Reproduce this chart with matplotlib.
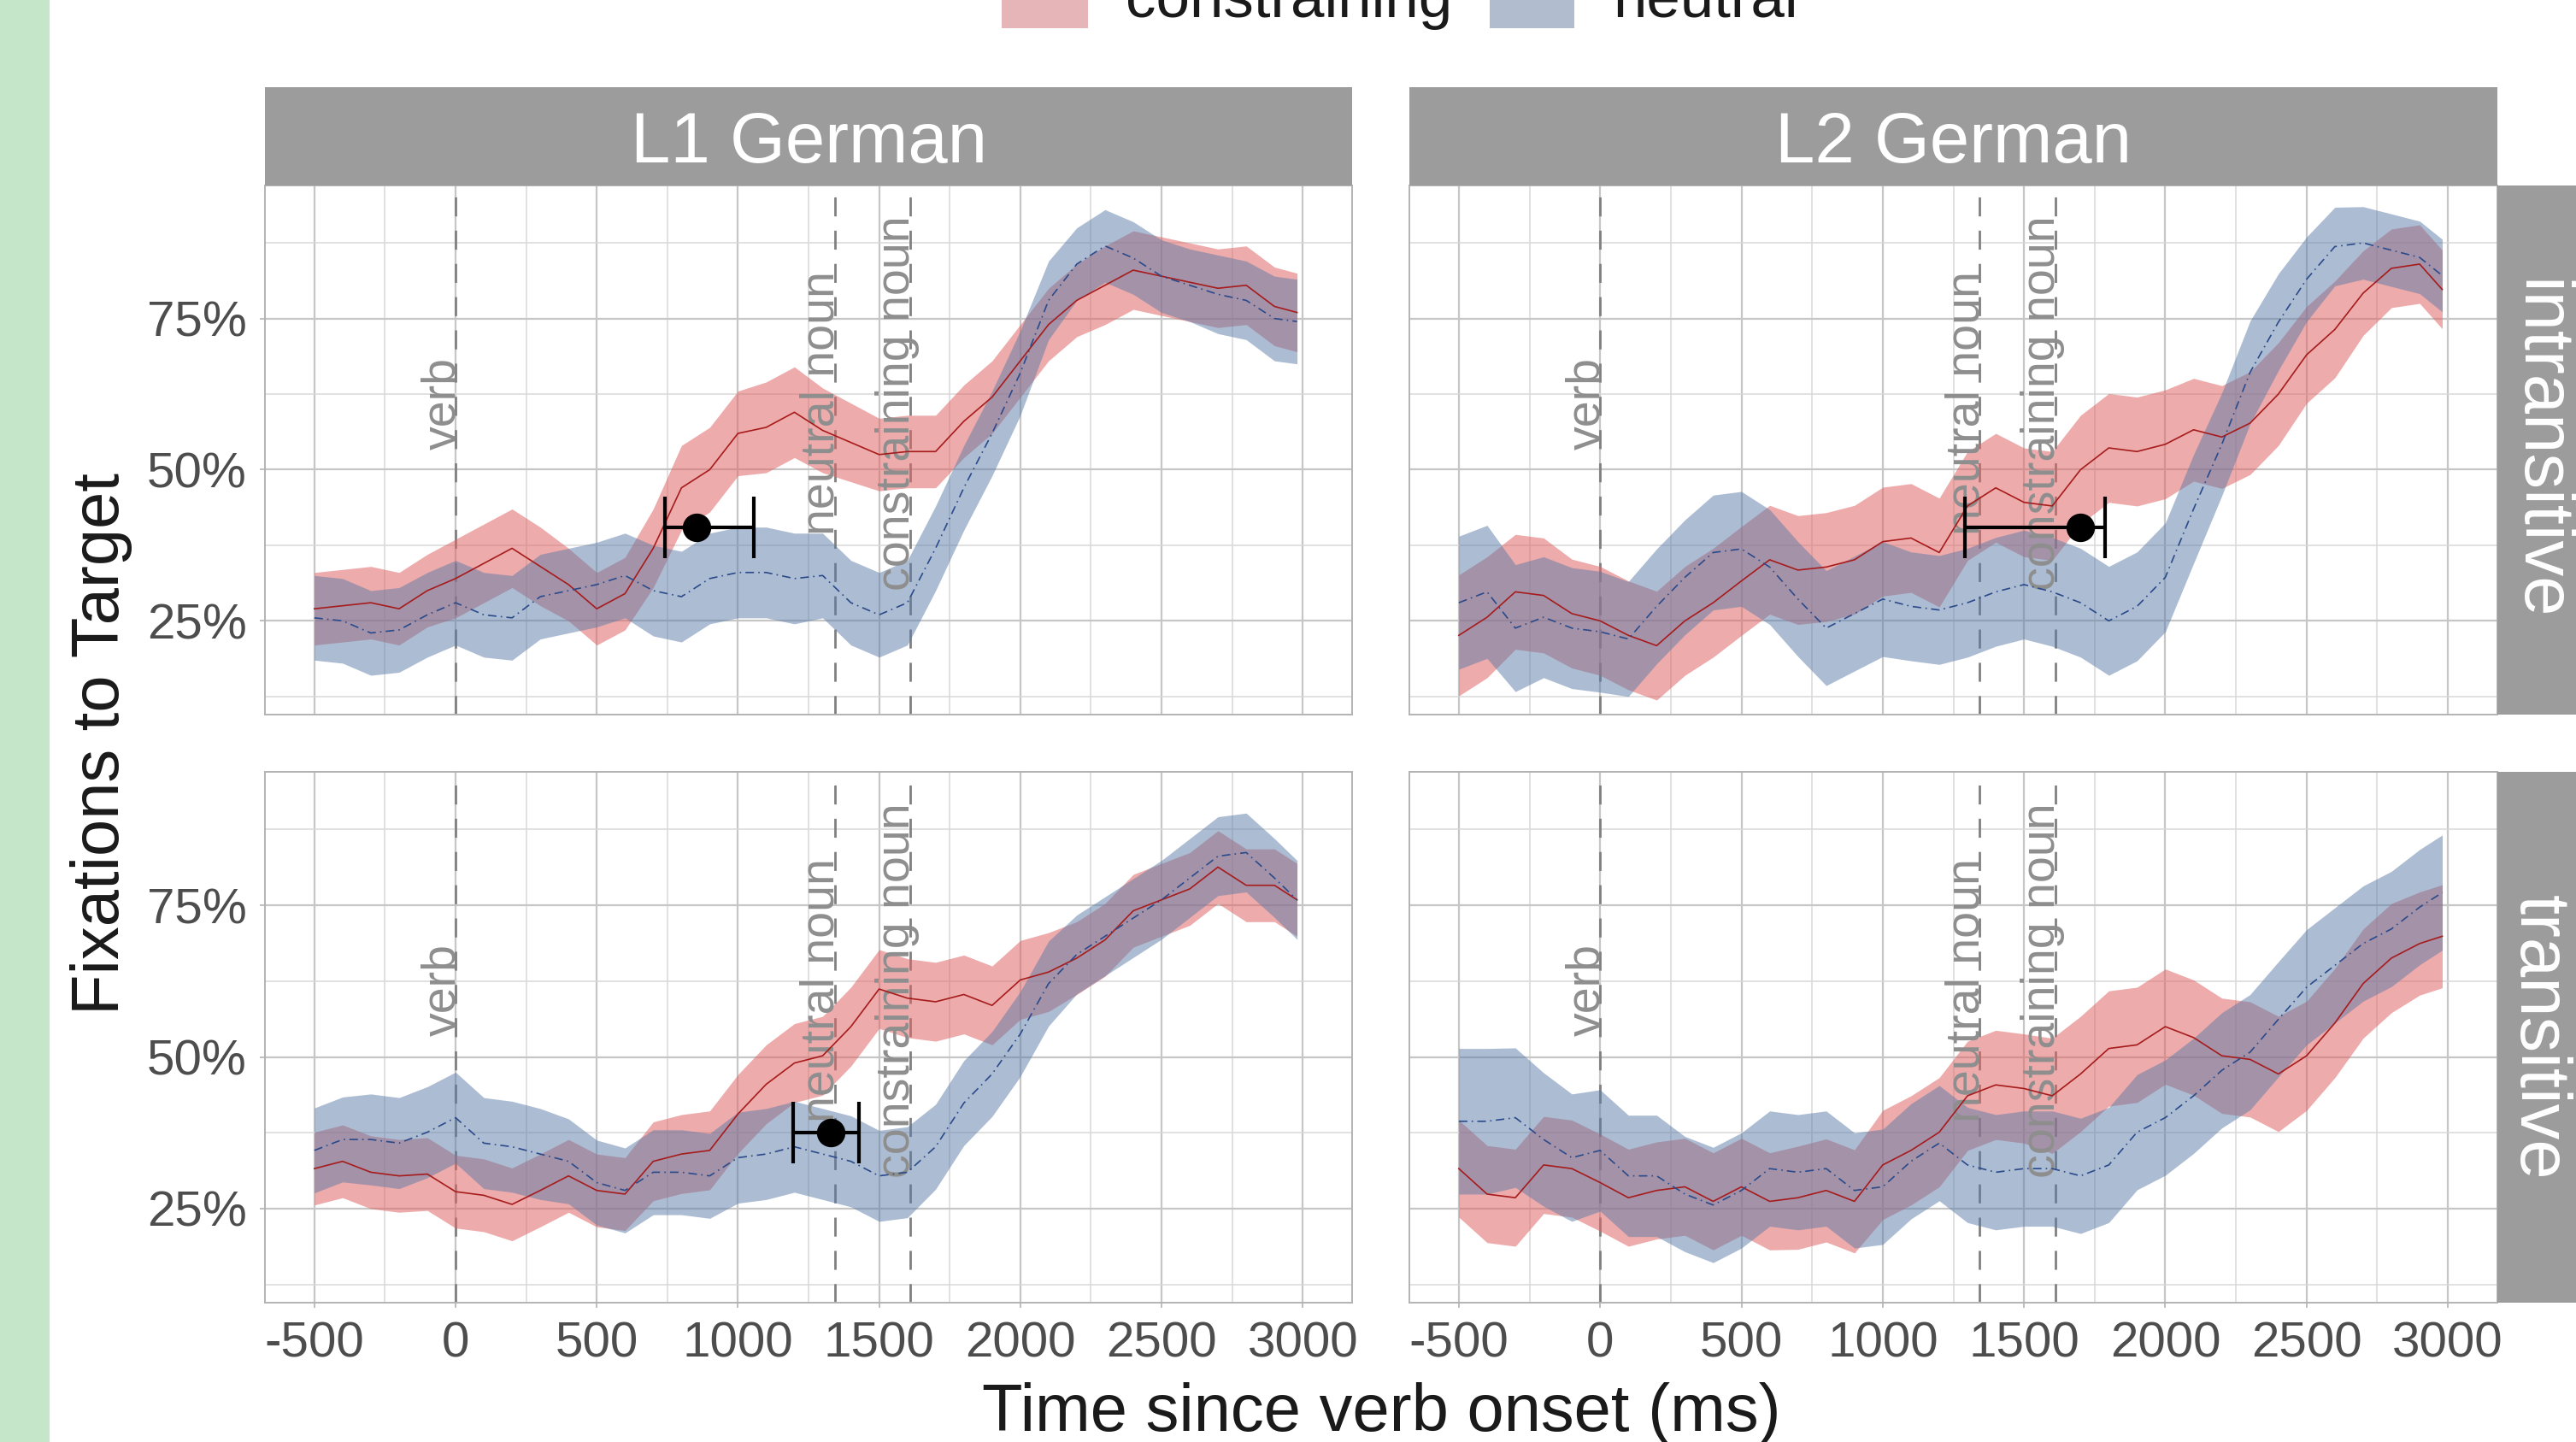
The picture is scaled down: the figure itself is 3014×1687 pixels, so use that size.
import matplotlib
matplotlib.use("Agg")
import matplotlib.pyplot as plt
from matplotlib.patches import Rectangle
from matplotlib.ticker import FuncFormatter, MultipleLocator, FixedLocator

plt.rcParams['font.family'] = ['Liberation Sans', 'DejaVu Sans']
plt.rcParams['axes.unicode_minus'] = False

W, H, DPI = 3014, 1687, 100

# ---------------- data ----------------
time_ms = [-500, -400, -300, -200, -100, 0, 100, 200, 300, 400, 500, 600, 700, 800,
           900, 1000, 1100, 1200, 1300, 1400, 1500, 1600, 1700, 1800, 1900, 2000,
           2100, 2200, 2300, 2400, 2500, 2600, 2700, 2800, 2900, 2980]

groups = ["L1 German", "L2 German"]
verb_types = ["intransitive", "transitive"]
conditions = ["constraining", "neutral"]

# fixations to target (%)
l1_intr_con = [27, 27.5, 28, 27, 30, 32, 34.5, 37, 34, 31, 27, 29.5, 37, 47, 50, 56, 57, 59.5,
               56.5, 54.5, 52.5, 53, 53, 58, 62, 68, 74, 78, 80.5, 83, 82, 81, 80, 80.5, 77, 76]
l1_intr_neu = [25.5, 25, 23, 23.5, 26, 28, 26, 25.5, 29, 30, 31, 32.5, 30, 29, 32, 33, 33, 32,
               32.5, 28, 26, 28, 37, 47, 56, 66, 78, 84, 87, 85, 82, 80.5, 79, 78, 75, 74.5]
l2_intr_con = [22.6, 25.6, 29.8, 29.2, 26.2, 25, 22.6, 20.9, 25, 28, 31.6, 35.1, 33.4, 33.9,
               35.1, 38.1, 38.7, 36.3, 44, 47, 44.6, 44, 50, 53.6, 53, 54.2, 56.6, 55.4, 57.7,
               62.5, 69, 73.2, 79.2, 83.3, 84, 79.8]
l2_intr_neu = [28, 29.8, 23.8, 25.6, 23.8, 23.2, 22, 27.4, 32.2, 36.3, 36.9, 33.9, 28.6, 23.8,
               26.2, 28.6, 27.4, 26.8, 28, 29.8, 31, 29.8, 28, 25, 27.4, 32.2, 43.5, 54.2, 66.1,
               74.4, 81.5, 86.9, 87.5, 86.3, 85.1, 82.1]
l1_trans_con = [31.6, 32.8, 31, 30.4, 30.7, 27.8, 27.2, 25.7, 28, 30.4, 28, 27.4, 32.8, 34,
                34.6, 40.6, 45.5, 49, 50.2, 55, 61.2, 59.7, 59.1, 60.3, 58.5, 62.7, 64, 66.3,
                69.3, 74.1, 75.9, 77.7, 81.3, 78.3, 78.3, 75.9]
l1_trans_neu = [34.6, 36.4, 36.4, 35.8, 37.6, 40, 35.8, 35.2, 34, 32.8, 29.3, 28, 31, 31, 30.4,
                33.4, 34, 35.2, 34, 32.8, 30.4, 31, 35.2, 42.4, 47.2, 53.8, 62.1, 66.9, 69.9,
                72.9, 75.9, 79.5, 83.1, 83.7, 79.5, 75.9]
l2_trans_con = [31.6, 27.4, 26.8, 32.2, 31.6, 29.3, 26.8, 28, 28.6, 26.2, 28.6, 26.2, 26.8, 28,
                26.2, 32.2, 34.6, 37.6, 43.6, 45.4, 44.8, 43.6, 47.2, 51.4, 52, 55, 53.2, 50.2,
                49.6, 47.2, 50.2, 55.6, 62.1, 66.3, 68.7, 69.9]
l2_trans_neu = [39.4, 39.4, 40, 36.4, 33.4, 34.6, 30.4, 30.4, 27.4, 25.6, 28, 31.6, 31, 31.6,
                28, 28.6, 32.8, 35.8, 32.2, 31, 31.6, 31.6, 30.4, 32.2, 37.6, 40, 43.6, 47.8,
                50.8, 56.2, 61.5, 65.1, 68.7, 71.1, 74.7, 77.1]

# ribbon half-widths (%)
l1_intr_con_ci = [6, 6, 6, 6, 6, 6.5, 6.5, 6.5, 6.5, 6, 6, 6, 6.5, 7, 7, 7, 7.5, 7.5, 7, 6.5,
                  6, 6, 6, 6, 6, 6, 6, 6, 6.5, 6.5, 6.5, 6.5, 6.5, 6.5, 6.5, 6.5]
l1_intr_neu_ci = [7, 7, 7, 7, 7, 7, 7, 7, 7, 7, 7, 7, 7.5, 7.5, 7.5, 7.5, 7.5, 7.5, 7, 7, 7, 7,
                  7, 7, 7, 7, 6.5, 6, 6, 6, 6, 6, 6.5, 6.5, 7, 7]
l2_intr_con_ci = [10, 10, 9.5, 9.5, 9, 9, 9, 9, 9, 9, 9, 9, 9, 9, 9, 9, 9, 9, 9, 9, 9, 9, 9, 9,
                  9, 9, 8.5, 8.5, 8.5, 8.5, 8, 8, 7, 6.5, 6.5, 6.5]
l2_intr_neu_ci = [11, 11, 10.5, 10, 10, 10, 9.5, 9.5, 9.5, 9.5, 9.5, 9.5, 9.5, 9.5, 9.5, 9.5, 9,
                  9, 9, 9, 9, 9, 9, 9, 9, 9, 9, 8.5, 8.5, 8, 7, 6.5, 6, 6, 6, 6]
l1_trans_con_ci = [6, 6, 6, 6, 6, 6, 6, 6, 6, 6, 6, 6, 6.5, 6.5, 6.5, 6.5, 6.5, 6.5, 6.5, 6.5,
                   6.5, 6.5, 6.5, 6.5, 6.5, 6.5, 6.5, 6, 6, 6, 6, 6, 6, 6, 6, 6]
l1_trans_neu_ci = [7, 7, 7.5, 7.5, 7.5, 7.5, 7.5, 7.5, 7.5, 7, 7, 7, 7, 7, 7, 7.5, 7.5, 7.5,
                   7.5, 7.5, 7.5, 7.5, 7, 7, 7, 7, 7, 6.5, 6.5, 6.5, 6.5, 6.5, 6.5, 6.5, 6.5, 6.5]
l2_trans_con_ci = [8, 8, 8, 8, 8, 8, 8, 8, 8, 8, 8, 8, 8.5, 8.5, 8.5, 9, 9, 9, 9, 9, 9, 9.5, 9.5,
                   9.5, 9.5, 9.5, 9.5, 9.5, 9.5, 9.5, 9, 9, 9, 9, 8.5, 8.5]
l2_trans_neu_ci = [12, 12, 11.5, 11, 10.5, 10, 10, 10, 9.5, 9.5, 9.5, 9.5, 9.5, 9.5, 9.5, 9.5,
                   9.5, 9.5, 9.5, 9.5, 9.5, 9.5, 9.5, 9.5, 9.5, 9.5, 9.5, 9.5, 9.5, 9.5, 9.5,
                   9.5, 9.5, 9.5, 9.5, 9.5]

# word onsets (ms)
onset_labels = ["verb", "neutral noun", "constraining noun"]
onset_ms = [0, 1343, 1610]

# divergence point estimates: [group][verb type] -> (estimate, lower, upper, y%) or None
div_est = {("L1 German", "intransitive"): (853, 742, 1055, 40.4),
           ("L2 German", "intransitive"): (1698, 1292, 1786, 40.5),
           ("L1 German", "transitive"): (1328, 1195, 1428, 37.5),
           ("L2 German", "transitive"): None}

series = {
    ("L1 German", "intransitive"): (l1_intr_con, l1_intr_con_ci, l1_intr_neu, l1_intr_neu_ci),
    ("L2 German", "intransitive"): (l2_intr_con, l2_intr_con_ci, l2_intr_neu, l2_intr_neu_ci),
    ("L1 German", "transitive"): (l1_trans_con, l1_trans_con_ci, l1_trans_neu, l1_trans_neu_ci),
    ("L2 German", "transitive"): (l2_trans_con, l2_trans_con_ci, l2_trans_neu, l2_trans_neu_ci),
}

x_ticks = [-500, 0, 500, 1000, 1500, 2000, 2500, 3000]
y_ticks = [25, 50, 75]

# ---------------- style ----------------
RED_FILL = "#E06666"
BLUE_FILL = "#5B7BA8"
RED_LINE = "#A61C1C"
BLUE_LINE = "#2A4A8A"
STRIP = "#9C9C9C"
BORDER = "#B3B3B3"
TICKTXT = "#4D4D4D"

fig = plt.figure(figsize=(W / DPI, H / DPI), dpi=DPI)
fig.patch.set_facecolor("white")


def fig_rect(x0, y0, x1, y1, **kw):
    r = Rectangle((x0 / W, 1 - y1 / H), (x1 - x0) / W, (y1 - y0) / H,
                  transform=fig.transFigure, **kw)
    fig.patches.append(r)
    return r


# green strip at the left edge
fig_rect(0, 0, 58, H, facecolor="#C6E6CA", edgecolor="none", zorder=0)

col_x = [(310, 1582), (1649, 2922)]
row_y = [(217, 836), (903, 1524)]

for ci, grp in enumerate(groups):
    for ri, vt in enumerate(verb_types):
        x0, x1 = col_x[ci]
        y0, y1 = row_y[ri]
        ax = fig.add_axes([x0 / W, 1 - y1 / H, (x1 - x0) / W, (y1 - y0) / H])
        ax.set_xlim(-675, 3175)
        ax.set_ylim(9.5, 97.0)
        ax.xaxis.set_major_locator(FixedLocator(x_ticks))
        ax.xaxis.set_minor_locator(MultipleLocator(250))
        ax.yaxis.set_major_locator(FixedLocator(y_ticks))
        ax.yaxis.set_minor_locator(FixedLocator([12.5, 37.5, 62.5, 87.5]))
        ax.grid(which="major", color="#C6C6C6", linewidth=1.6, zorder=0)
        ax.grid(which="minor", color="#D8D8D8", linewidth=1.1, zorder=0)
        ax.set_axisbelow(True)
        for s in ax.spines.values():
            s.set_color(BORDER)
            s.set_linewidth(1.4)
        ax.tick_params(which="minor", length=0)
        ax.tick_params(which="major", color=BORDER, length=4.3, width=1.2,
                       labelsize=42, labelcolor=TICKTXT)
        ax.tick_params(axis="x", pad=11)
        ax.tick_params(axis="y", pad=11)
        ax.yaxis.set_major_formatter(FuncFormatter(lambda v, p: f"{v:.0f}%"))
        if ri == 0:
            ax.tick_params(axis="x", labelbottom=False, length=0)
        if ci == 1:
            ax.tick_params(axis="y", labelleft=False, length=0)

        # word onset lines + labels
        for lab, xm in zip(onset_labels, onset_ms):
            ax.axvline(xm, color="#808080", linestyle=(0, (8, 6)), linewidth=2.0, zorder=1)
            ax.text(xm - 45, 61, lab, rotation=90, ha="center", va="center",
                    fontsize=40, color="#8E8E8E", zorder=3)

        con, con_ci, neu, neu_ci = series[(grp, vt)]
        con_lo = [v - c for v, c in zip(con, con_ci)]
        con_hi = [v + c for v, c in zip(con, con_ci)]
        neu_lo = [v - c for v, c in zip(neu, neu_ci)]
        neu_hi = [v + c for v, c in zip(neu, neu_ci)]
        ax.fill_between(time_ms, con_lo, con_hi, color=RED_FILL, alpha=0.55,
                        linewidth=0, zorder=2)
        ax.fill_between(time_ms, neu_lo, neu_hi, color=BLUE_FILL, alpha=0.5,
                        linewidth=0, zorder=2)
        ax.plot(time_ms, con, color=RED_LINE, linewidth=1.2, zorder=4)
        ax.plot(time_ms, neu, color=BLUE_LINE, linewidth=1.2,
                linestyle=(0, (6, 3, 1, 3)), zorder=4)

        est = div_est[(grp, vt)]
        if est is not None:
            e, lo, hi, yv = est
            ax.errorbar([e], [yv], xerr=[[e - lo], [hi - e]], fmt="o", color="black",
                        markersize=23, elinewidth=3.0, capsize=26, capthick=3.0, zorder=6)

    # top strip
    x0, x1 = col_x[ci]
    fig_rect(x0, 102, x1, 217, facecolor=STRIP, edgecolor="none", zorder=1)
    fig.text((x0 + x1) / 2 / W, 1 - 168 / H, grp, ha="center", va="center",
             fontsize=60, color="white")

# right strips
for ri, vt in enumerate(verb_types):
    y0, y1 = row_y[ri]
    fig_rect(2922, y0, 3030, y1, facecolor=STRIP, edgecolor="none", zorder=1)
    fig.text(2970 / W, 1 - ((y0 + y1) / 2) / H, vt, rotation=-90, ha="center",
             va="center", fontsize=60, color="white")

# axis titles
fig.text(1616 / W, 1 - 1654 / H, "Time since verb onset (ms)", ha="center", va="center",
         fontsize=56, color="#1A1A1A")
fig.text(119 / W, 1 - 870 / H, "Fixations to Target", ha="center", va="center",
         rotation=90, fontsize=56, color="#1A1A1A")

# legend (cut by the top edge, as in the reference)
fig_rect(1172, -70, 1273, 33, facecolor="#E6B5B7", edgecolor="none", zorder=1)
fig.text(1317 / W, 1 - 20 / H, conditions[0], ha="left", va="baseline",
         fontsize=51, color="#1A1A1A")
fig_rect(1743, -70, 1842, 33, facecolor="#B1BCCF", edgecolor="none", zorder=1)
fig.text(1887 / W, 1 - 20 / H, conditions[1], ha="left", va="baseline",
         fontsize=51, color="#1A1A1A")

fig.savefig("out.png", dpi=DPI)
